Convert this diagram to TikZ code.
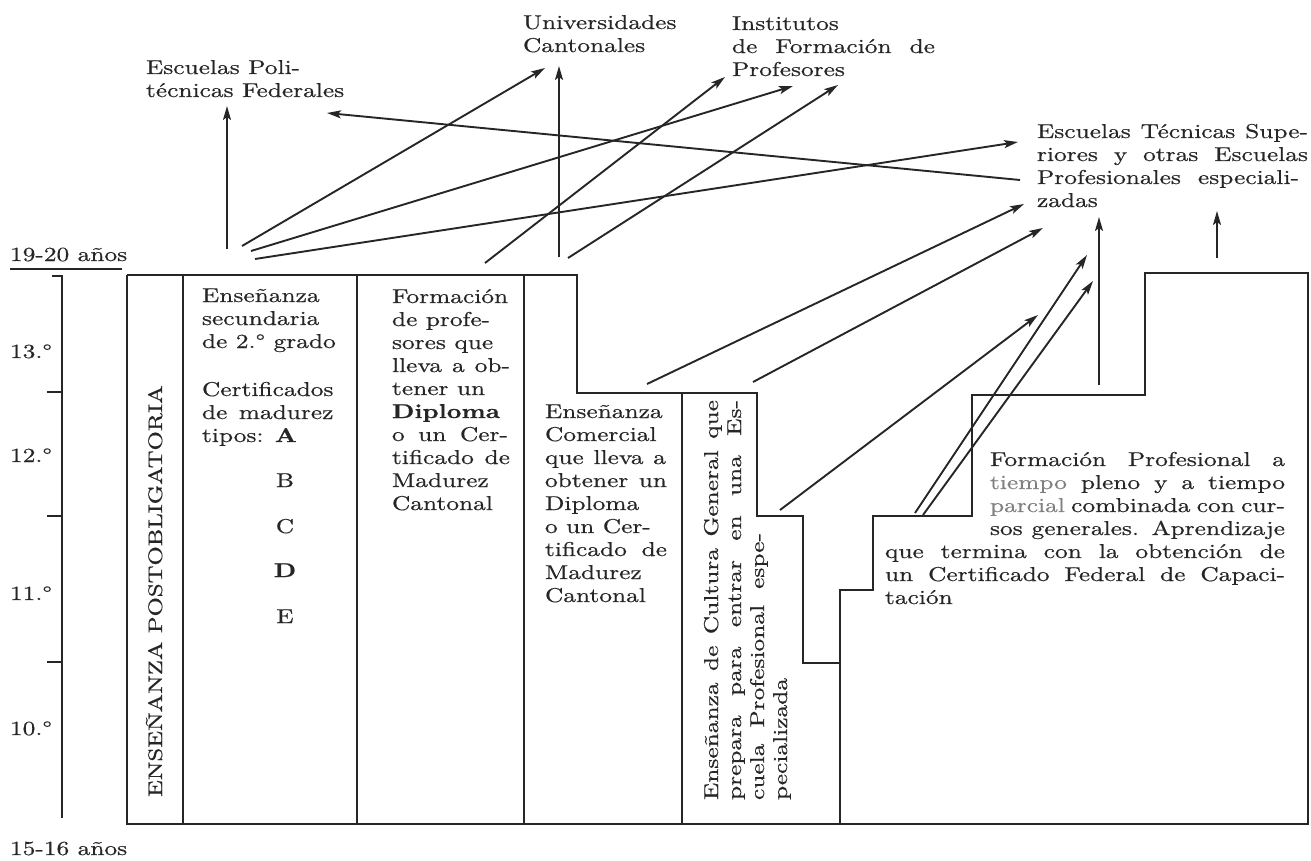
\documentclass[tikz,border=0pt]{standalone}
\usepackage{fontspec}
\setmainfont{lmroman10-regular.otf}[BoldFont=lmroman10-bold.otf, FakeStretch=1.27, FakeBold=0.6]
\usetikzlibrary{arrows.meta}
\newlength\mylw
\newcommand{\jl}[2]{\makebox[#1][s]{#2}}
\newcommand{\bodyf}{\fontsize{20}{23}\selectfont}
\newcommand{\ordo}{\textsuperscript{°}}
\definecolor{ink}{gray}{0.15}
\definecolor{pale}{gray}{0.5}
\tikzset{
  frame/.style={draw=ink, line width=2.3pt, line join=miter},
  tick/.style={draw=ink, line width=2.2pt},
  conn/.style={draw=ink, line width=1.9pt, -{Stealth[length=14pt,width=8pt,inset=3pt]}},
  txt/.style={anchor=base west, inner sep=0pt, outer sep=0pt, text=ink, font=\bodyf},
  rtxt/.style={txt, rotate=90},
  ctxt/.style={txt, anchor=base},
}
\begin{document}
\begin{tikzpicture}[x=1pt,y=-1pt]
\useasboundingbox (0,0) rectangle (1311,861);

% ---- age scale ----
\node[txt] (a19) at (10,261) {19-20 años};
\draw[tick] (10,269) -- (122,269);
\draw[frame] (52,276) -- (62,276) -- (62,818);
\draw[tick] (47,392) -- (62,392);
\draw[tick] (47,516) -- (62,516);
\draw[tick] (47,662) -- (62,662);
\node[txt] (g13) at (10,358) {13.°};
\node[txt] (g12) at (10,462) {12.°};
\node[txt] (g11) at (10,600) {11.°};
\node[txt] (g10) at (10,735) {10.°};
\node[txt] (a15) at (10,855) {15-16 años};

% ---- blocks ----
\draw[frame] (127,275) -- (577,275) -- (577,393) -- (757,393) -- (757,516)
  -- (803,516) -- (803,663) -- (840,663);
\draw[frame] (127,275) -- (127,824) -- (1308,824) -- (1308,273) -- (1145,273)
  -- (1145,395) -- (972,395) -- (972,516) -- (873,516) -- (873,590)
  -- (840,590) -- (840,824);
\draw[frame] (183,275) -- (183,824);
\draw[frame] (357,275) -- (357,824);
\draw[frame] (524,275) -- (524,824);
\draw[frame] (682,393) -- (682,824);

\node[rtxt, font=\fontsize{19.5}{23}\selectfont] (post) at (162,797) {ENSEÑANZA POSTOBLIGATORIA};

\node[txt] (sec) at (202,302) {\parbox[t]{200pt}{\bodyf Enseñanza\\secundaria\\de 2.° grado\\[25pt]Certificados\\\settowidth\mylw{Certificados}\makebox[\mylw][s]{de madurez}\\tipos: \textbf{A}}};
\node[ctxt] (tb) at (285,487) {B};
\node[ctxt] (tc) at (285,533) {C};
\node[ctxt] (td) at (285,577) {\textbf{D}};
\node[ctxt] (te) at (285,623) {E};

\node[txt] (form) at (392,303) {\parbox[t]{200pt}{\bodyf Formación\\de profe-\\sores que\\\jl{118pt}{lleva a ob-}\\tener un\\\textbf{Diploma}\\\jl{116pt}{o un Cer-}\\\jl{118pt}{tificado de}\\Madurez\\Cantonal}};

\node[txt] (com) at (545,418) {\parbox[t]{200pt}{\bodyf Enseñanza\\Comercial\\\jl{121pt}{que lleva a}\\\jl{122pt}{obtener un}\\Diploma\\o un Cer-\\\jl{122pt}{tificado de}\\Madurez\\Cantonal}};

\node[rtxt] (cul) at (718,800) {\parbox[t]{420pt}{\bodyf \jl{400pt}{Enseñanza de Cultura General que}\\\jl{400pt}{prepara para entrar en una Es-}\\\jl{267pt}{cuela Profesional espe-}\\pecializada}};

\node[txt] (fp) at (885,466) {\parbox[t]{420pt}{\bodyf \hspace*{105pt}\jl{295pt}{Formación Profesional a}\\\hspace*{105pt}\jl{295pt}{\textcolor{pale}{tiempo} pleno y a tiempo}\\\hspace*{105pt}\jl{295pt}{\textcolor{pale}{parcial} combinada con cur-}\\\hspace*{105pt}\jl{295pt}{sos generales. Aprendizaje}\\\jl{400pt}{que termina con la obtención de}\\\jl{400pt}{un Certificado Federal de Capaci-}\\tación}};

% ---- destinations ----
\node[txt] (poli) at (146,74) {\parbox[t]{250pt}{\bodyf Escuelas Poli-\\técnicas Federales}};
\node[txt] (univ) at (523,29) {\parbox[t]{200pt}{\bodyf Universidades\\Cantonales}};
\node[txt] (inst) at (732,30) {\parbox[t]{250pt}{\bodyf Institutos\\\jl{203pt}{de Formación de}\\Profesores}};
\node[txt] (etec) at (1037,138) {\parbox[t]{280pt}{\bodyf \jl{271pt}{Escuelas Técnicas Supe-}\\\jl{271pt}{riores y otras Escuelas}\\\jl{262pt}{Profesionales especiali-}\\zadas}};

% ---- connector end points ----
\coordinate (s1) at (227,249);  \coordinate (t1) at (227,106);
\coordinate (s2) at (242,246);  \coordinate (t2) at (545,68);
\coordinate (s3) at (251,251);  \coordinate (t3) at (793,86);
\coordinate (s4) at (255,259);  \coordinate (t4) at (1018,142);
\coordinate (s5) at (485,263);  \coordinate (t5) at (725,77);
\coordinate (s6) at (559,257);  \coordinate (t6) at (559,66);
\coordinate (s7) at (568,258);  \coordinate (t7) at (838,85);
\coordinate (s8) at (1020,180); \coordinate (t8) at (327,113);
\coordinate (s9) at (647,384);  \coordinate (t9) at (1024,204);
\coordinate (s10) at (753,382); \coordinate (t10) at (1043,228);
\coordinate (s11) at (780,510); \coordinate (t11) at (1038,315);
\coordinate (s12) at (915,513); \coordinate (t12) at (1087,255);
\coordinate (s13) at (923,515); \coordinate (t13) at (1093,281);
\coordinate (s14) at (1099,385); \coordinate (t14) at (1099,217);
\coordinate (s15) at (1217,258); \coordinate (t15) at (1217,211);

\foreach \i in {1,...,15} { \draw[conn] (s\i) -- (t\i); }
\end{tikzpicture}
\end{document}
